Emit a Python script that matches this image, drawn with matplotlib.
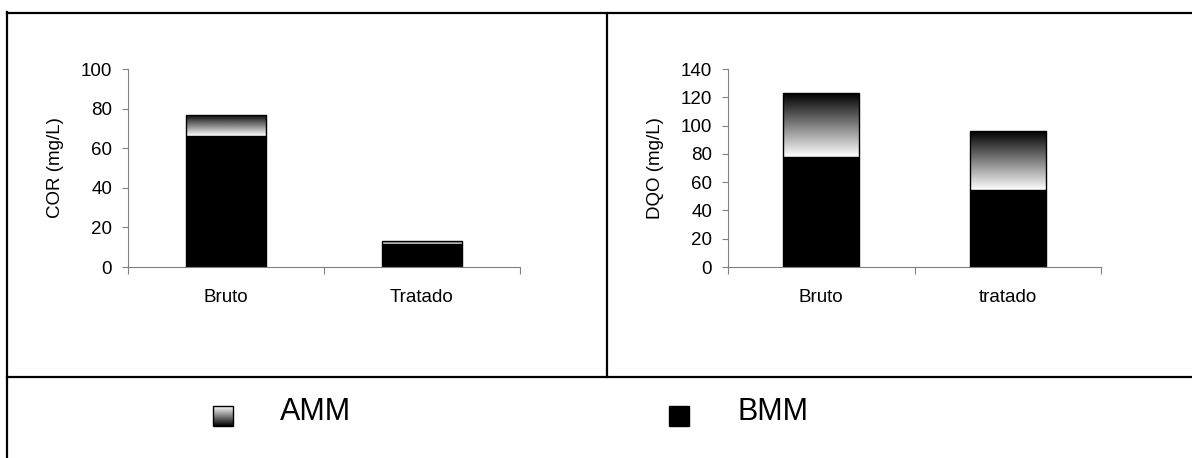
import numpy as np
import matplotlib.pyplot as plt
from matplotlib.lines import Line2D
from matplotlib.patches import Rectangle

plt.rcParams['font.family'] = ['Liberation Sans', 'DejaVu Sans']

# dados
cor_cats = ["Bruto", "Tratado"]
cor_bmm = [66, 11.5]
cor_amm = [11, 1.8]

dqo_cats = ["Bruto", "tratado"]
dqo_bmm = [78, 54.5]
dqo_amm = [45, 41.5]

W, H = 1192, 458
FS = 13.5
fig = plt.figure(figsize=(W / 100, H / 100), dpi=100)


def px_axes(x0, y0, x1, y1):
    # caixa em pixels (origem no topo) -> fração da figura
    return fig.add_axes([x0 / W, 1 - y1 / H, (x1 - x0) / W, (y1 - y0) / H])


grad = np.linspace(0, 1, 256).reshape(-1, 1)


def stacked(ax, cats, bmm, amm, ymax, ystep, ylabel, label_x):
    x = np.arange(len(cats))
    ax.bar(x, bmm, width=0.41, color="black", edgecolor="black", linewidth=1)
    tops = ax.bar(x, amm, bottom=bmm, width=0.41, color="none",
                  edgecolor="black", linewidth=1, zorder=3)
    for b in tops:
        x0, y0 = b.get_x(), b.get_y()
        # escuro em cima, branco embaixo
        im = ax.imshow(grad, cmap="gray", aspect="auto", origin="upper",
                       extent=[x0, x0 + b.get_width(), y0, y0 + b.get_height()],
                       zorder=2)
        im.set_clip_path(b)
    ax.set_xlim(-0.5, len(cats) - 0.5)
    ax.set_ylim(0, ymax)
    ax.set_yticks(np.arange(0, ymax + 1, ystep))
    ax.set_xticks(np.arange(len(cats) + 1) - 0.5)
    ax.set_xticklabels([])
    ax.set_xticks(x, minor=True)
    ax.set_xticklabels(cats, minor=True)
    ax.tick_params(axis="x", which="minor", length=0, pad=16, labelsize=FS)
    ax.tick_params(axis="x", which="major", length=5, color="#808080")
    ax.tick_params(axis="y", length=4.5, labelsize=FS, color="#808080", pad=7)
    for s in ["top", "right"]:
        ax.spines[s].set_visible(False)
    for s in ["left", "bottom"]:
        ax.spines[s].set_color("#808080")
    ax.set_ylabel(ylabel, fontsize=FS)
    ax.yaxis.set_label_coords(label_x, 0.5)


ax1 = px_axes(128, 69, 520, 267)
stacked(ax1, cor_cats, cor_bmm, cor_amm, 100, 20, "COR (mg/L)", (64 - 128) / 392)

ax2 = px_axes(728, 69, 1101, 267)
stacked(ax2, dqo_cats, dqo_bmm, dqo_amm, 140, 20, "DQO (mg/L)", (664 - 728) / 373)

# molduras
def fline(xs, ys):
    fig.add_artist(Line2D([v / W for v in xs], [1 - v / H for v in ys],
                          color="black", linewidth=1.6))

fline([7, 7], [12, H])
fline([7, W], [13, 13])
fline([607, 607], [13, 377])
fline([7, W], [377, 377])

# legenda
lax = fig.add_axes([0, 0, 1, 1], facecolor="none")
lax.set_xlim(0, W)
lax.set_ylim(H, 0)
lax.axis("off")
sq = Rectangle((213, 406), 20, 20, facecolor="none", edgecolor="black", linewidth=1)
lax.add_patch(sq)
im = lax.imshow(1 - grad, cmap="gray", aspect="auto", extent=[213, 233, 426, 406])
im.set_clip_path(sq)
lax.add_patch(Rectangle((669, 406), 20, 20, facecolor="black", edgecolor="black"))
lax.text(280, 412, "AMM", fontsize=22, va="center", ha="left")
lax.text(738, 412, "BMM", fontsize=22, va="center", ha="left")

fig.savefig("out.png", dpi=100)
